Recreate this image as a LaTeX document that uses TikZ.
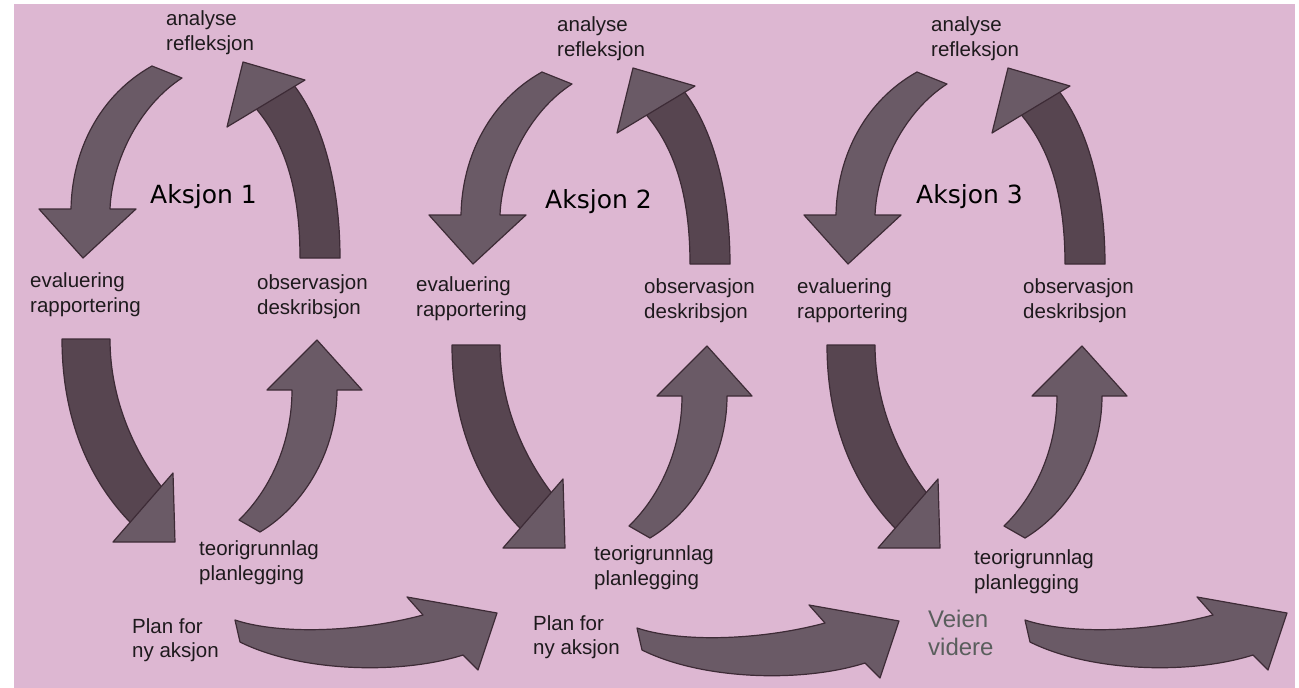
\documentclass[tikz,border=0pt]{standalone}
\usepackage{fontspec}
\setmainfont{Liberation Sans}
\newfontfamily\akfont{DejaVu Sans}
\definecolor{bgpink}{HTML}{DDB7D2}
\definecolor{arlight}{HTML}{6A5A66}
\definecolor{ardark}{HTML}{574550}
\definecolor{arline}{HTML}{3D2B36}
\definecolor{txt}{HTML}{1E1A1D}
\definecolor{veien}{HTML}{5A5E5D}
\tikzset{
  arlightstyle/.style={fill=arlight, draw=arline, line width=1.2pt, line join=round},
  ardarkstyle/.style={fill=ardark, draw=arline, line width=1.2pt, line join=round},
  lbl/.style={anchor=north west, inner sep=0pt, align=left, text=txt,
              font=\fontsize{20.5}{25}\selectfont},
  plbl/.style={lbl, font=\fontsize{20.5}{24}\selectfont},
  vlbl/.style={lbl, text=veien, font=\fontsize{24}{28}\selectfont},
  aklbl/.style={anchor=base west, inner sep=0pt, text=black,
                font=\akfont\fontsize{25}{30}\selectfont}
}
\newcommand\cyclearrows{%
  % analyse -> evaluering
  \draw[arlightstyle] (152,66) .. controls (100,95) and (72,150) .. (71,209)
    -- (39,209) -- (83,258) -- (136,209) -- (110,209)
    .. controls (112,160) and (140,105) .. (182,78) -- cycle;
  % observasjon -> analyse (shaft)
  \draw[ardarkstyle] (300,258) .. controls (300,190) and (285,140) .. (252,104)
    -- (293,84) .. controls (325,125) and (340,190) .. (340,258) -- cycle;
  % head
  \draw[arlightstyle] (243,62) -- (305,80) -- (227,127) -- cycle;
  % evaluering -> teorigrunnlag (shaft)
  \draw[ardarkstyle] (62,339) -- (110,339) .. controls (110,400) and (135,455) .. (168,495)
    -- (138,530) .. controls (90,485) and (62,420) .. (62,339) -- cycle;
  % head
  \draw[arlightstyle] (173,473) -- (175,542) -- (113,542) -- cycle;
  % teorigrunnlag -> observasjon
  \draw[arlightstyle] (239,520) .. controls (272,488) and (292,440) .. (292,390)
    -- (267,390) -- (317,340) -- (362,390) -- (337,390)
    .. controls (337,450) and (305,505) .. (260,532) -- cycle;
}
\newcommand\bottomarrow{%
  \draw[arlightstyle] (235,620) .. controls (280,635) and (360,632) .. (423,615)
    -- (407,597) -- (497,613) -- (478,670) -- (463,655)
    .. controls (400,675) and (300,672) .. (240,642) -- cycle;
}
\begin{document}
\begin{tikzpicture}[x=1pt,y=-1pt]
\useasboundingbox (0,0) rectangle (1299,688);
\fill[white] (0,0) rectangle (1299,688);
\fill[bgpink] (14,4) rectangle (1295,688);

% cycle arrows
\cyclearrows
\begin{scope}[shift={(390,6)}]\cyclearrows\end{scope}
\begin{scope}[shift={(765,6)}]\cyclearrows\end{scope}
% bottom arrows
\bottomarrow
\begin{scope}[shift={(402,8)}]\bottomarrow\end{scope}
\begin{scope}[shift={(790,0)}]\bottomarrow\end{scope}

% labels cycle 1
\node[lbl] (a1) at (166,9) {\rule{0pt}{16pt}analyse\\refleksjon};
\node[lbl] (e1) at (30,271) {\rule{0pt}{16pt}evaluering\\rapportering};
\node[lbl] (o1) at (257,273) {\rule{0pt}{16pt}observasjon\\deskribsjon};
\node[lbl] (t1) at (199,539) {\rule{0pt}{16pt}teorigrunnlag\\planlegging};
\node[plbl] (p1) at (132,617) {\rule{0pt}{16pt}Plan for\\ny aksjon};
\node[aklbl] (k1) at (150,203) {Aksjon 1};

% labels cycle 2
\node[lbl] (a2) at (557,15) {\rule{0pt}{16pt}analyse\\refleksjon};
\node[lbl] (e2) at (416,275) {\rule{0pt}{16pt}evaluering\\rapportering};
\node[lbl] (o2) at (644,277) {\rule{0pt}{16pt}observasjon\\deskribsjon};
\node[lbl] (t2) at (594,544) {\rule{0pt}{16pt}teorigrunnlag\\planlegging};
\node[plbl] (p2) at (533,614) {\rule{0pt}{16pt}Plan for\\ny aksjon};
\node[aklbl] (k2) at (545,208) {Aksjon 2};

% labels cycle 3
\node[lbl] (a3) at (931,15) {\rule{0pt}{16pt}analyse\\refleksjon};
\node[lbl] (e3) at (797,277) {\rule{0pt}{16pt}evaluering\\rapportering};
\node[lbl] (o3) at (1023,277) {\rule{0pt}{16pt}observasjon\\deskribsjon};
\node[lbl] (t3) at (974,548) {\rule{0pt}{16pt}teorigrunnlag\\planlegging};
\node[vlbl] (v3) at (928,608) {\rule{0pt}{19pt}Veien\\videre};
\node[aklbl] (k3) at (916,203) {Aksjon 3};
\end{tikzpicture}
\end{document}
